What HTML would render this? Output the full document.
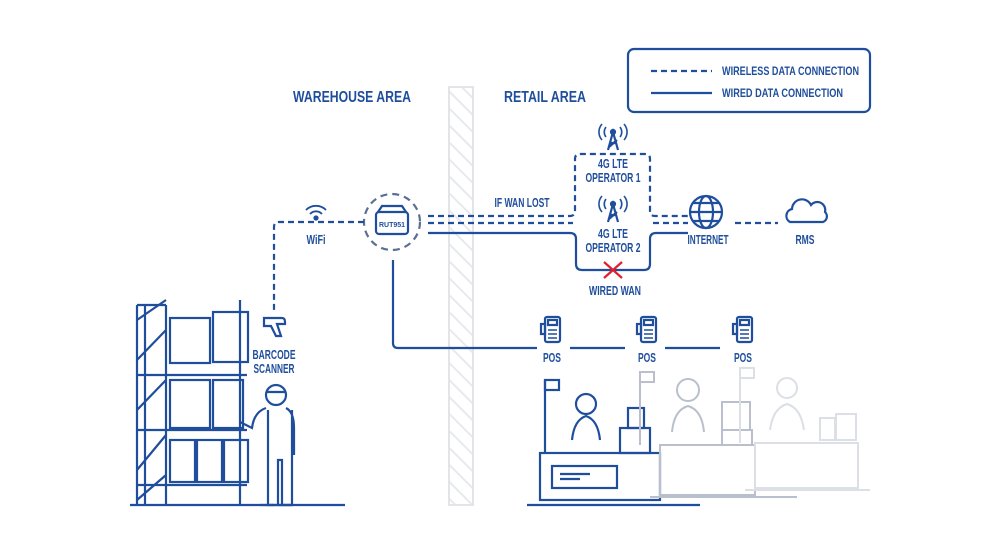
<!DOCTYPE html>
<html><head><meta charset="utf-8"><style>
html,body{margin:0;padding:0;background:#fff}
svg{display:block}
text{font-family:"Liberation Sans",sans-serif;font-weight:bold;fill:#1f4e9c}
</style></head><body>
<svg width="1000" height="560" viewBox="0 0 1000 560" xmlns="http://www.w3.org/2000/svg">
<defs>
<pattern id="hatch" width="12" height="12" patternUnits="userSpaceOnUse" patternTransform="rotate(-45)">
<rect width="12" height="12" fill="#fff"/><line x1="0" y1="0" x2="0" y2="12" stroke="#e8e9ed" stroke-width="4"/>
</pattern>
</defs>
<g fill="none" stroke="#1f4e9c" stroke-width="2.2">
<rect x="628" y="49" width="242" height="63" rx="6"/>
<line x1="651" y1="71" x2="712" y2="71" stroke-dasharray="6,4"/>
<line x1="651" y1="93" x2="712" y2="93"/>
</g>
<text x="722" y="75" font-size="12" textLength="137" lengthAdjust="spacingAndGlyphs">WIRELESS DATA CONNECTION</text>
<text x="722" y="97" font-size="12" textLength="121" lengthAdjust="spacingAndGlyphs">WIRED DATA CONNECTION</text>
<text x="293" y="102" font-size="16" textLength="118" lengthAdjust="spacingAndGlyphs">WAREHOUSE AREA</text>
<text x="504" y="102" font-size="16" textLength="82" lengthAdjust="spacingAndGlyphs">RETAIL AREA</text>
<rect x="449" y="87" width="24" height="418" fill="url(#hatch)" stroke="#e2e4e8" stroke-width="2"/>
<g fill="none" stroke="#1f4e9c" stroke-width="2.2">
<circle cx="392" cy="222" r="28" stroke="#5b6f95" stroke-dasharray="7,5"/>
<rect x="376" y="212" width="32" height="22" rx="3"/>
<path d="M378 212 l4 -6 h20 l4 6"/>
<path d="M428 216 H570 q5 0 5 -5 V159 q0 -5 5 -5 H645 q5 0 5 5 V211 q0 5 5 5 H688" stroke-dasharray="6,4"/>
<path d="M428 223 H573 M653 223 H688" stroke-dasharray="6,4"/>
<path d="M428 233 H570 q6 0 6 6 V264 q0 6 6 6 H644 q6 0 6 -6 V239 q0 -6 6 -6 H688"/>
<path d="M735 223 H778" stroke-dasharray="6,4"/>
<path d="M364 222 H279 q-5 0 -5 5 V312" stroke-dasharray="6,4"/>
<path d="M393 260 V343 q0 5 5 5 H537 M570 348 H625 M665 348 H720"/>
<circle cx="706" cy="212" r="16"/>
<ellipse cx="706" cy="212" rx="7" ry="16"/>
<path d="M690 212 H722 M693 203 H719 M693 221 H719"/>
<path d="M790 222 a7 7 0 0 1 2 -13 a10 10 0 0 1 19 -4 a8 8 0 0 1 14 7 a6 6 0 0 1 -2 10 z"/>
<path d="M608 150 l5 -18 l5 18 M610 143 h6 M609 147 l8 -7"/>
<circle cx="613" cy="132" r="2"/>
<path d="M606 127 a8 8 0 0 0 0 10 M620 127 a8 8 0 0 1 0 10 M602 124 a12 12 0 0 0 0 16 M624 124 a12 12 0 0 1 0 16" stroke-width="1.6"/>
<path d="M608 222 l5 -18 l5 18 M610 215 h6 M609 219 l8 -7"/>
<circle cx="613" cy="204" r="2"/>
<path d="M606 199 a8 8 0 0 0 0 10 M620 199 a8 8 0 0 1 0 10 M602 196 a12 12 0 0 0 0 16 M624 196 a12 12 0 0 1 0 16" stroke-width="1.6"/>
<path d="M306 210 a14 14 0 0 1 20 0 M310 214 a8 8 0 0 1 12 0" stroke-width="1.8"/>
<circle cx="316" cy="218" r="1.5" fill="#1f4e9c"/>
<path d="M264 318 h18 q3 0 3 4 v2 h-8 l4 12 h-5 l-5 -10 h-7 z"/>
<g id="pos"><rect x="545" y="317" width="15" height="25" rx="2"/><rect x="541" y="324" width="4" height="10"/><rect x="548" y="320" width="9" height="5"/><path d="M548 330 h9 M548 334 h9 M548 338 h9" stroke-width="1.4"/></g>
<use href="#pos" x="96"/><use href="#pos" x="192"/>
<path d="M137 305 V505 M145 305 V505 M166 305 V505 M240 300 V505 M137 305 h29 M137 375 h110 M137 430 h110 M137 485 h110 M137 320 l29 -20 M137 360 l29 -30 M137 410 l29 -30 M137 470 l29 -35 M137 500 l29 -25"/>
<rect x="170" y="318" width="40" height="45"/><rect x="213" y="312" width="35" height="50"/>
<rect x="170" y="380" width="40" height="48"/><rect x="213" y="380" width="30" height="48"/>
<rect x="170" y="440" width="25" height="42"/><rect x="197" y="440" width="25" height="42"/><rect x="224" y="440" width="24" height="42"/>
<path d="M130 505 H345"/>
<circle cx="276" cy="395" r="10"/><path d="M266 392 h20"/>
<path d="M266 408 q-12 4 -14 20 l-12 -6 M286 408 q8 4 8 20 V455 M268 410 V505 h10 V460 h4 V505 h10 V410"/>
<path d="M260 505 h14 M278 505 h14"/>
<rect x="540" y="453" width="120" height="47"/>
<rect x="552" y="466" width="65" height="22"/>
<path d="M527 505 H700 M545 380 V453 M560 474 h30 M560 479 h20"/>
<rect x="545" y="380" width="14" height="10"/>
<circle cx="586" cy="404" r="10"/>
<path d="M572 440 q2 -20 14 -24 q12 4 14 24"/>
<rect x="620" y="428" width="30" height="25"/><rect x="628" y="408" width="16" height="20"/>
</g>
<g fill="none" stroke="#b9bfcc" stroke-width="2">
<rect x="660" y="445" width="95" height="50"/><path d="M640 372 V445 M650 497 H797"/><rect x="640" y="372" width="14" height="10"/>
<circle cx="688" cy="390" r="11"/><path d="M672 432 q2 -22 16 -26 q14 4 16 26"/>
<rect x="722" y="402" width="28" height="28"/><rect x="722" y="430" width="30" height="15"/>
</g>
<g fill="none" stroke="#dcdfe6" stroke-width="2">
<rect x="755" y="443" width="103" height="45"/><path d="M740 368 V443 M745 490 H870"/><rect x="740" y="368" width="14" height="10"/>
<circle cx="787" cy="388" r="10"/><path d="M770 430 q3 -22 17 -26 q14 4 17 26"/>
<rect x="820" y="418" width="15" height="22"/><rect x="836" y="414" width="20" height="26"/>
</g>
<path d="M604 262 l18 16 M622 262 l-18 16" stroke="#e0202a" stroke-width="2.2"/>
<g font-size="12.5" text-anchor="middle">
<text x="613" y="168" textLength="30" lengthAdjust="spacingAndGlyphs">4G LTE</text><text x="613" y="182" textLength="55" lengthAdjust="spacingAndGlyphs">OPERATOR 1</text>
<text x="613" y="238" textLength="30" lengthAdjust="spacingAndGlyphs">4G LTE</text><text x="613" y="252" textLength="55" lengthAdjust="spacingAndGlyphs">OPERATOR 2</text>
<text x="522" y="207" textLength="55" lengthAdjust="spacingAndGlyphs">IF WAN LOST</text>
<text x="615" y="295" textLength="52" lengthAdjust="spacingAndGlyphs">WIRED WAN</text>
<text x="708" y="244" textLength="41" lengthAdjust="spacingAndGlyphs">INTERNET</text>
<text x="805" y="244" textLength="19" lengthAdjust="spacingAndGlyphs">RMS</text>
<text x="316" y="244" textLength="19" lengthAdjust="spacingAndGlyphs">WiFi</text>
<text x="274" y="359" textLength="43" lengthAdjust="spacingAndGlyphs">BARCODE</text><text x="274" y="373" textLength="41" lengthAdjust="spacingAndGlyphs">SCANNER</text>
<text x="552" y="362" textLength="18" lengthAdjust="spacingAndGlyphs">POS</text><text x="647" y="362" textLength="18" lengthAdjust="spacingAndGlyphs">POS</text><text x="743" y="362" textLength="18" lengthAdjust="spacingAndGlyphs">POS</text>
</g>
<text x="392" y="227" font-size="7" text-anchor="middle">RUT951</text>
</svg>
</body></html>
